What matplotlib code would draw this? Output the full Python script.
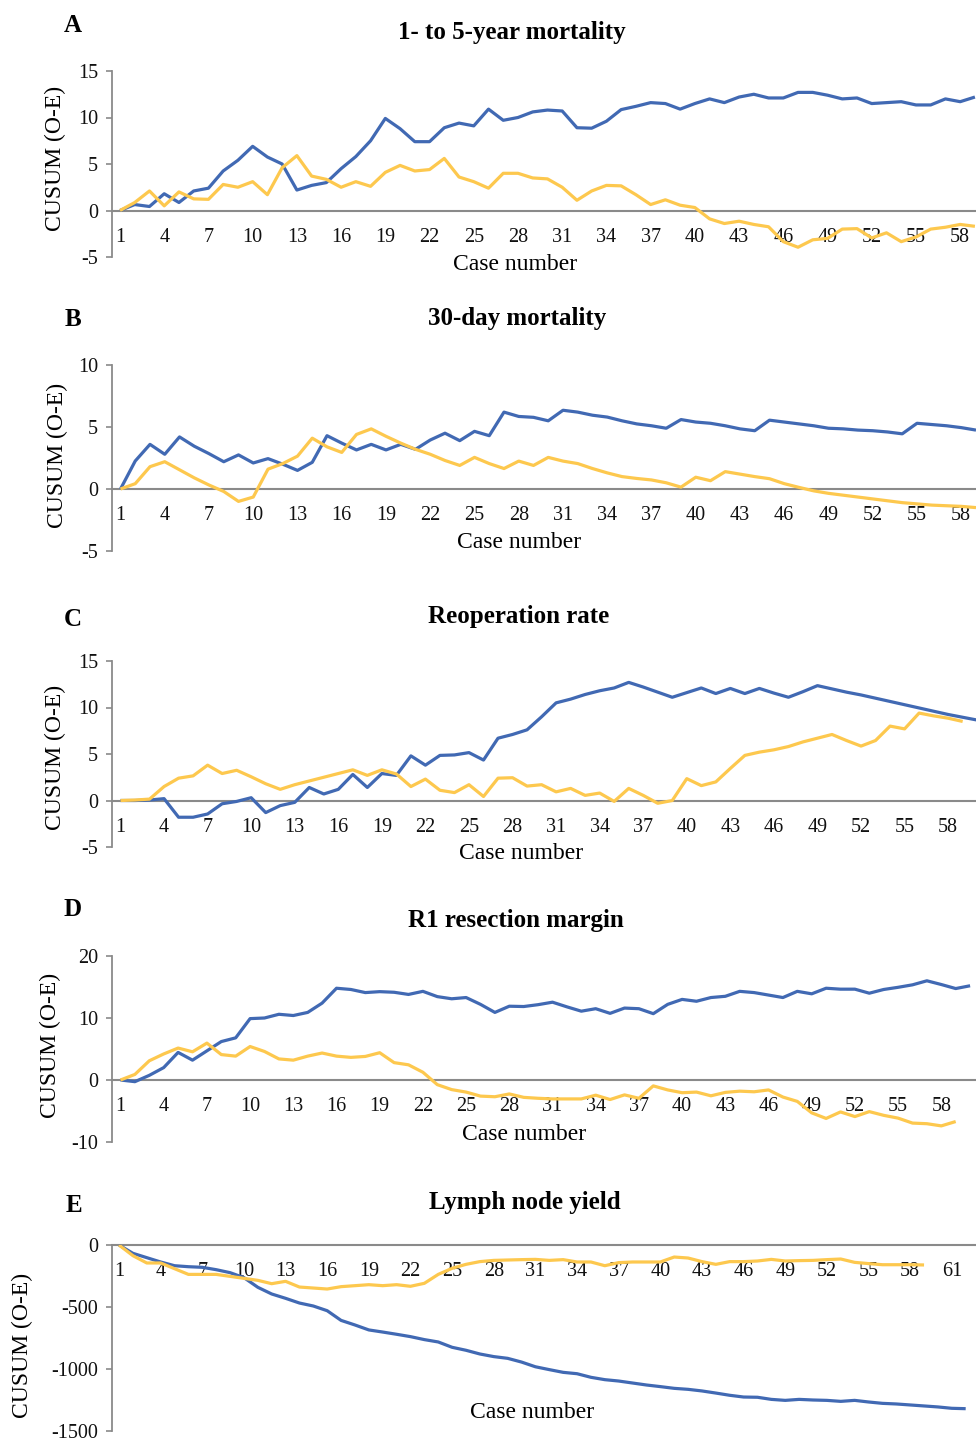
import matplotlib
matplotlib.use("Agg")
import matplotlib.pyplot as plt
import numpy as np

plt.rcParams['font.family'] = ['Liberation Serif', 'DejaVu Serif']
plt.rcParams['axes.unicode_minus'] = False

# ---------------- data ----------------
titles = ["1- to 5-year mortality", "30-day mortality", "Reoperation rate",
          "R1 resection margin", "Lymph node yield"]
letters = ["A", "B", "C", "D", "E"]
x_title = "Case number"
y_title = "CUSUM (O-E)"

a_blue = [0, 0.64, 0.43, 1.8, 0.86, 2.1, 2.4, 4.25, 5.4, 6.9, 5.75, 5.0, 2.2, 2.7, 3.0,
          4.5, 5.8, 7.5, 9.9, 8.8, 7.4, 7.4, 8.9, 9.4, 9.1, 10.9, 9.7, 10.0, 10.6, 10.8,
          10.7, 8.9, 8.85, 9.6, 10.85, 11.2, 11.6, 11.5, 10.9, 11.5, 12.0, 11.6, 12.2, 12.5,
          12.1, 12.1, 12.7, 12.7, 12.4, 12.0, 12.1, 11.5, 11.6, 11.7, 11.35, 11.35, 12.0,
          11.7, 12.2]
a_yellow = [0, 0.86, 2.1, 0.5, 2.0, 1.25, 1.2, 2.8, 2.5, 3.1, 1.7, 4.6, 5.9, 3.7, 3.35,
            2.5, 3.1, 2.6, 4.1, 4.85, 4.25, 4.4, 5.6, 3.6, 3.1, 2.4, 4.0, 4.0, 3.5, 3.4,
            2.5, 1.1, 2.1, 2.7, 2.65, 1.7, 0.64, 1.15, 0.57, 0.32, -0.9, -1.4, -1.15, -1.5,
            -1.75, -3.35, -3.95, -3.15, -3.0, -2.0, -1.95, -2.95, -2.4, -3.35, -2.85, -2.0,
            -1.8, -1.5, -1.7]

b_blue = [0, 2.26, 3.6, 2.8, 4.2, 3.45, 2.85, 2.2, 2.75, 2.1, 2.45, 2.0, 1.5, 2.15, 4.3,
          3.7, 3.15, 3.6, 3.15, 3.6, 3.2, 3.95, 4.5, 3.9, 4.65, 4.3, 6.2, 5.85, 5.78, 5.5,
          6.35, 6.2, 5.95, 5.8, 5.5, 5.25, 5.1, 4.9, 5.6, 5.4, 5.3, 5.1, 4.85, 4.7, 5.55,
          5.4, 5.25, 5.1, 4.9, 4.85, 4.75, 4.7, 4.6, 4.45, 5.3, 5.2, 5.1, 4.95, 4.75]
b_yellow = [0, 0.43, 1.8, 2.2, 1.55, 0.9, 0.32, -0.2, -1.0, -0.65, 1.6, 2.05, 2.65, 4.1,
            3.4, 2.95, 4.4, 4.85, 4.25, 3.7, 3.2, 2.8, 2.3, 1.9, 2.55, 2.05, 1.65, 2.25,
            1.9, 2.55, 2.25, 2.05, 1.65, 1.3, 1.0, 0.85, 0.73, 0.5, 0.15, 0.95, 0.67, 1.4,
            1.2, 1.0, 0.83, 0.43, 0.13, -0.15, -0.35, -0.5, -0.65, -0.8, -0.95, -1.1, -1.2,
            -1.3, -1.35, -1.4, -1.5]

c_blue = [0, 0, 0.05, 0.2, -1.8, -1.8, -1.45, -0.35, -0.1, 0.3, -1.3, -0.55, -0.2, 1.4,
          0.7, 1.2, 2.8, 1.4, 2.9, 2.7, 4.8, 3.8, 4.85, 4.9, 5.15, 4.35, 6.7, 7.1, 7.6, 9.0,
          10.5, 10.9, 11.4, 11.8, 12.1, 12.7, 12.2, 11.65, 11.1, 11.6, 12.1, 11.5, 12.05,
          11.5, 12.05, 11.55, 11.1, 11.7, 12.35, 12.0, 11.65, 11.35, 11.0, 10.65, 10.3,
          9.95, 9.6, 9.25, 8.95, 8.65]
c_yellow = [0, 0.05, 0.15, 1.5, 2.4, 2.65, 3.8, 2.9, 3.25, 2.55, 1.8, 1.2, 1.7, 2.1, 2.5,
            2.9, 3.3, 2.7, 3.3, 2.85, 1.5, 2.3, 1.1, 0.85, 1.7, 0.43, 2.4, 2.45, 1.55, 1.7,
            0.93, 1.3, 0.55, 0.8, -0.1, 1.3, 0.55, -0.3, 0.0, 2.35, 1.6, 2.0, 3.45, 4.85,
            5.2, 5.45, 5.8, 6.3, 6.7, 7.1, 6.45, 5.85, 6.45, 8.0, 7.7, 9.4, 9.1, 8.85, 8.5]

d_blue = [0, -0.27, 0.75, 2.0, 4.45, 3.2, 4.7, 6.2, 6.8, 9.9, 10.0, 10.6, 10.4, 10.9, 12.4,
          14.8, 14.6, 14.1, 14.25, 14.15, 13.8, 14.3, 13.45, 13.1, 13.3, 12.2, 10.9, 11.9,
          11.85, 12.15, 12.55, 11.8, 11.1, 11.5, 10.75, 11.6, 11.5, 10.7, 12.2, 13.0, 12.7,
          13.3, 13.5, 14.3, 14.1, 13.7, 13.3, 14.3, 13.9, 14.8, 14.65, 14.65, 14.0, 14.6,
          14.95, 15.35, 16.0, 15.4, 14.75, 15.2]
d_yellow = [0, 0.9, 3.1, 4.2, 5.15, 4.55, 5.95, 4.1, 3.85, 5.4, 4.6, 3.4, 3.2, 3.85, 4.35,
            3.85, 3.65, 3.8, 4.4, 2.8, 2.45, 1.25, -0.75, -1.55, -1.95, -2.6, -2.7, -2.25,
            -2.8, -2.95, -3.05, -3.05, -3.05, -2.45, -3.15, -2.4, -2.95, -0.95, -1.6, -2.05,
            -1.95, -2.55, -2.0, -1.8, -1.9, -1.6, -2.75, -3.45, -5.3, -6.2, -5.15, -5.9,
            -5.1, -5.7, -6.15, -6.95, -7.05, -7.4, -6.7]

e_blue = [0, -67, -102, -137, -167, -175, -180, -199, -223, -263, -341, -395, -430, -468,
          -492, -530, -608, -645, -685, -702, -720, -739, -763, -782, -825, -849, -879,
          -900, -914, -944, -982, -1005, -1027, -1038, -1067, -1086, -1097, -1113, -1129,
          -1142, -1156, -1164, -1177, -1194, -1212, -1226, -1228, -1245, -1253, -1245,
          -1250, -1253, -1261, -1253, -1266, -1277, -1282, -1290, -1298, -1306, -1317, -1320]
e_yellow = [0, -86, -145, -145, -191, -237, -237, -237, -253, -269, -285, -312, -293, -339,
            -347, -355, -336, -328, -320, -328, -320, -333, -309, -237, -188, -156, -134,
            -124, -121, -118, -116, -124, -118, -137, -137, -167, -142, -137, -137, -137,
            -97, -105, -134, -156, -134, -134, -129, -116, -129, -126, -124, -118, -113,
            -140, -150, -159, -159, -159, -161]

yticks_a = [-5, 0, 5, 10, 15]
yticks_b = [-5, 0, 5, 10]
yticks_c = [-5, 0, 5, 10, 15]
yticks_d = [-10, 0, 10, 20]
yticks_e = [-1500, -1000, -500, 0]
xticks_ad = list(range(1, 59, 3))
xticks_e = list(range(1, 62, 3))

# ---------------- layout (pixels) ----------------
W, H = 976, 1441
BLUE = "#4169B3"
YELLOW = "#FDC84E"
GREY = "#8A8A8A"

panels = [
    dict(blue=a_blue, yel=a_yellow, yt=yticks_a, xt=xticks_ad, top=71, bot=257, x1=120.0,
         step=14.74, title_xy=(512, 32), letter_xy=(73, 25), ylab_xy=(55, 158), xlab_xy=(515, 264)),
    dict(blue=b_blue, yel=b_yellow, yt=yticks_b, xt=xticks_ad, top=365, bot=551, x1=120.5,
         step=14.75, title_xy=(517, 319), letter_xy=(73, 319), ylab_xy=(57, 455), xlab_xy=(519, 543)),
    dict(blue=c_blue, yel=c_yellow, yt=yticks_c, xt=xticks_ad, top=661, bot=847, x1=120.5,
         step=14.52, title_xy=(519, 616), letter_xy=(73, 619), ylab_xy=(55, 757), xlab_xy=(521, 854)),
    dict(blue=d_blue, yel=d_yellow, yt=yticks_d, xt=xticks_ad, top=956, bot=1142, x1=120.5,
         step=14.40, title_xy=(516, 920), letter_xy=(73, 909), ylab_xy=(50, 1045), xlab_xy=(524, 1134)),
    dict(blue=e_blue, yel=e_yellow, yt=yticks_e, xt=xticks_e, top=1245, bot=1431, x1=119.0,
         step=13.88, title_xy=(525, 1203), letter_xy=(74, 1205), ylab_xy=(22, 1345), xlab_xy=(532, 1412)),
]

AX_LEFT = 112

fig = plt.figure(figsize=(W / 100, H / 100), dpi=100)


def fx(px):
    return px / W


def fy(py):
    return 1 - py / H


for i, p in enumerate(panels):
    ax = fig.add_axes([fx(AX_LEFT), fy(p["bot"]), fx(W - AX_LEFT), (p["bot"] - p["top"]) / H])
    xb = np.arange(1, len(p["blue"]) + 1)
    xy = np.arange(1, len(p["yel"]) + 1)
    ax.plot(xb, p["blue"], color=BLUE, lw=2.3, zorder=3, solid_capstyle="butt")
    ax.plot(xy, p["yel"], color=YELLOW, lw=2.3, zorder=3, solid_capstyle="butt")
    ax.set_ylim(p["yt"][0], p["yt"][-1])
    ax.set_xlim(1 - (p["x1"] - AX_LEFT) / p["step"], 1 + (W - p["x1"]) / p["step"])
    ax.set_yticks(p["yt"])
    ax.set_xticks(p["xt"])
    ax.set_xticklabels([str(v) for v in p["xt"]])
    for s in ("top", "right"):
        ax.spines[s].set_visible(False)
    ax.spines["left"].set_color(GREY)
    ax.spines["left"].set_linewidth(1.3)
    ax.spines["bottom"].set_position(("data", 0))
    ax.spines["bottom"].set_color(GREY)
    ax.spines["bottom"].set_linewidth(1.5)
    ax.spines["bottom"].set_zorder(2)
    ax.tick_params(axis="y", direction="out", length=4, width=1.2, color=GREY,
                   labelsize=14.5, pad=6, labelcolor="#111111")
    ax.tick_params(axis="x", length=0, labelsize=14.5, pad=12.5, labelcolor="#111111")
    ax.patch.set_alpha(0)
    for lab in ax.get_xticklabels():
        lab.set_zorder(4)

    fig.text(fx(p["title_xy"][0]), fy(p["title_xy"][1]), titles[i], ha="center", va="center",
             fontsize=18, fontweight="bold")
    fig.text(fx(p["letter_xy"][0]), fy(p["letter_xy"][1]), letters[i], ha="center", va="center",
             fontsize=18, fontweight="bold")
    fig.text(fx(p["ylab_xy"][0]), fy(p["ylab_xy"][1]), y_title, ha="center", va="center",
             rotation=90, fontsize=17)
    fig.text(fx(p["xlab_xy"][0]), fy(p["xlab_xy"][1]), x_title, ha="center", va="center",
             fontsize=17)

fig.savefig("out.png", dpi=100, facecolor="white")
